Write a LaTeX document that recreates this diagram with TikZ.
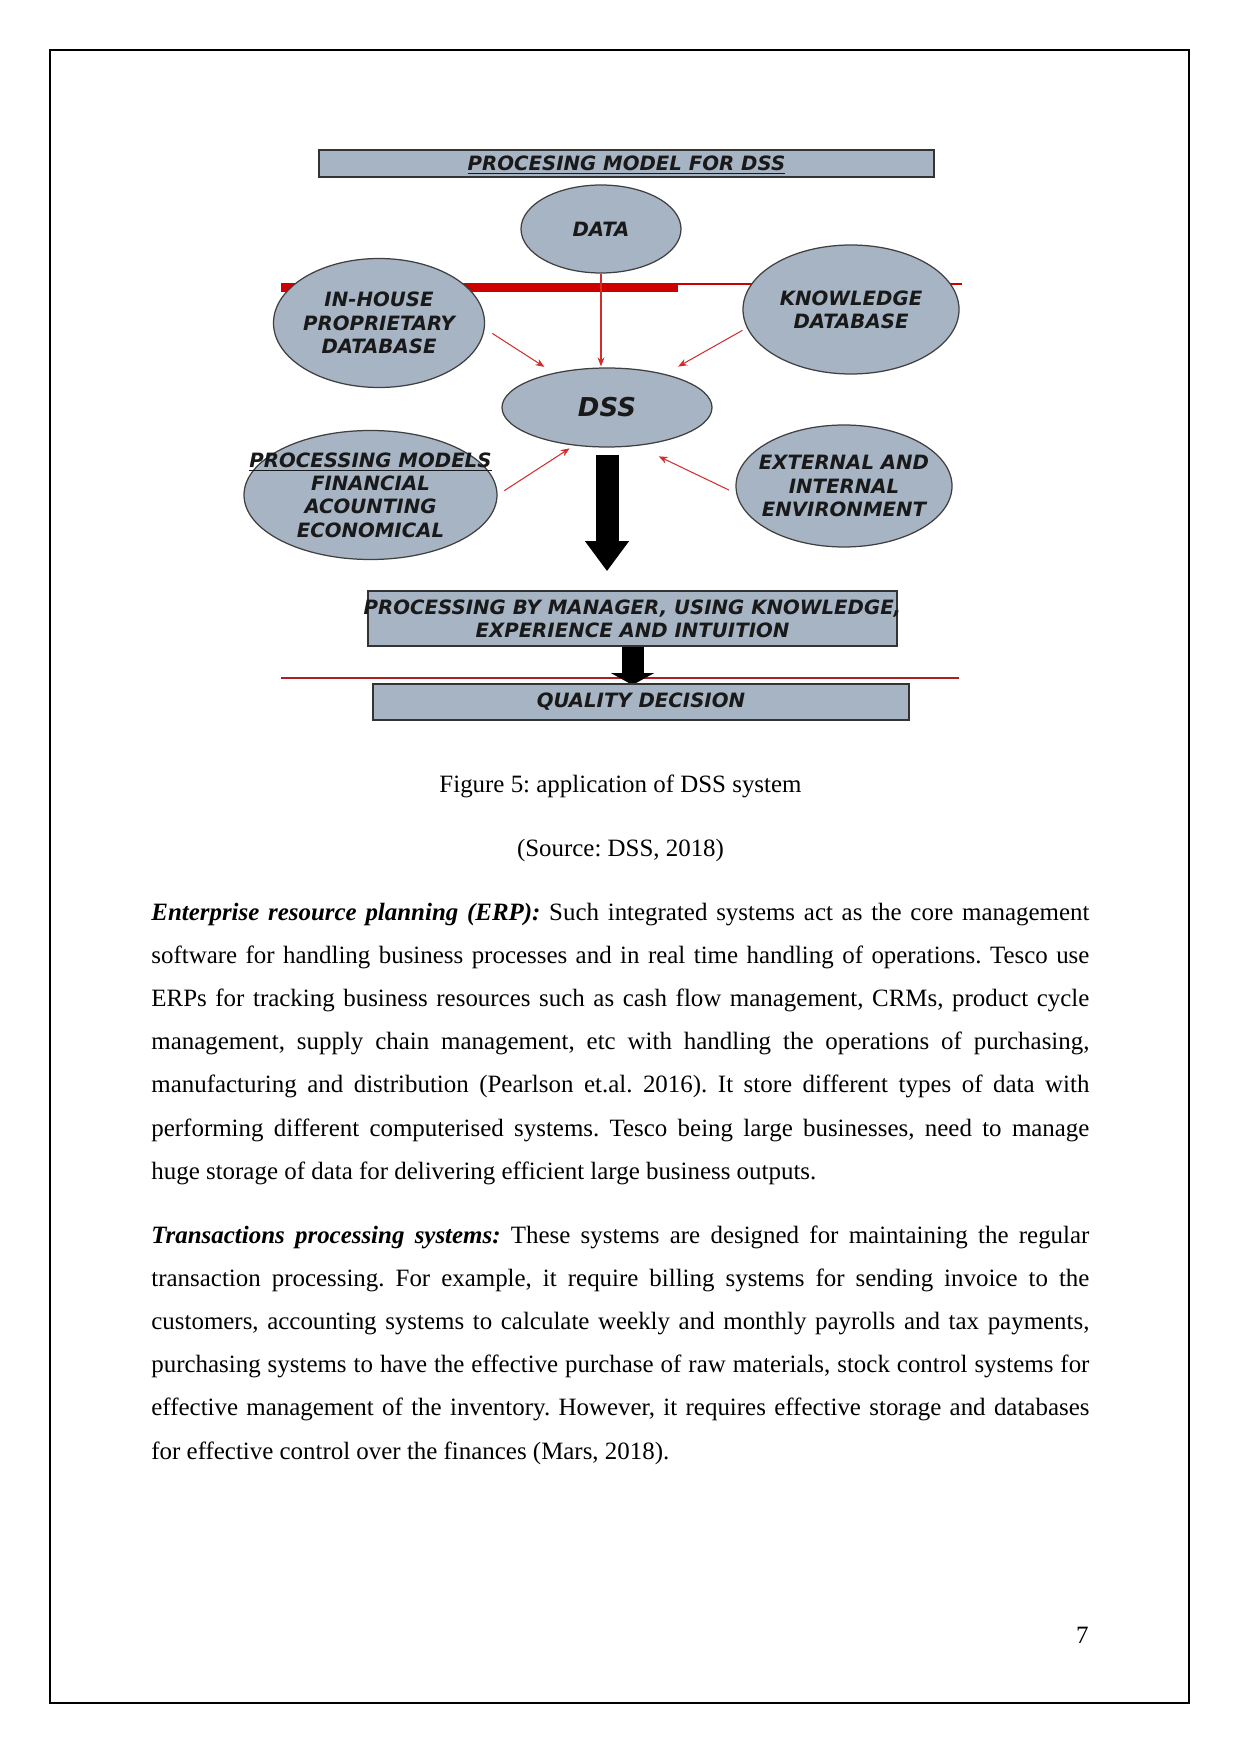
\documentclass[tikz,border=0pt]{standalone}
\usepackage{fontspec}
\setmainfont{Liberation Serif}
\newfontfamily\diafont{DejaVu Sans Bold Oblique}
\usetikzlibrary{shapes.geometric}
\usetikzlibrary{arrows.meta}
\newlength\pxl
\setlength\pxl{0.169218mm}
\definecolor{boxgray}{RGB}{167,180,196}
\definecolor{linkred}{RGB}{210,45,45}
\definecolor{barred}{RGB}{205,0,0}
\definecolor{rulered}{RGB}{175,30,30}
\frenchspacing

\tikzset{
  oval/.style={ellipse, draw=black!75, line width=0.6pt, fill=boxgray, inner sep=0pt},
  panel/.style={rectangle, draw=black!80, line width=0.8pt, fill=boxgray, inner sep=0pt},
  caps/.style={font=\diafont\fontsize{9.5}{11.2}\selectfont, text=black!90, align=center, inner sep=0pt},
  link/.style={draw=linkred, line width=0.5pt, -{Stealth[length=1.52mm,width=1.18mm]}},
  fatarrow/.style={line width=23\pxl, -{Triangle[length=5.08mm,width=7.11mm]}},
  body/.style={font=\fontsize{12}{20.8}\selectfont, inner sep=0pt, text width=938\pxl, align=justify, anchor=base west},
  plain/.style={font=\fontsize{12}{14}\selectfont, inner sep=0pt, anchor=base},
}

\begin{document}
\begin{tikzpicture}[x=0.169218mm, y=-0.169218mm]

      \useasboundingbox (0,0) rectangle (1241,1754);
      \draw [line width=1pt] (50,50) rectangle (1189,1703);

      % red bars behind the ovals
      \draw [barred, line width=9\pxl] (281,287.5) -- (678,287.5);
      \draw [barred, line width=0.5pt] (678,284) -- (962,284);
      \draw [rulered, line width=0.5pt] (281,678) -- (959,678);

      \node [panel, minimum width=615\pxl, minimum height=27\pxl] (title) at (626.5,163.5) {};
      \node [caps] (title-t) at ([yshift=-2\pxl]title.center) {\underline{PROCESING MODEL FOR DSS}};

      \node [oval, minimum width=160\pxl, minimum height=88\pxl] (data) at (601,229) {};
      \node [caps] (data-t) at (data) {DATA};

      \node [oval, minimum width=211\pxl, minimum height=129\pxl] (inh) at (379,323) {};
      \node [caps] (inh-t) at (inh) {IN-HOUSE\\PROPRIETARY\\DATABASE};

      \node [oval, minimum width=216\pxl, minimum height=129\pxl] (kno) at (851,309.5) {};
      \node [caps] (kno-t) at (kno) {KNOWLEDGE\\DATABASE};

      \node [oval, minimum width=210\pxl, minimum height=79\pxl] (dss) at (607,407.5) {};
      \node [caps, font=\diafont\fontsize{12.5}{14}\selectfont] (dss-t) at (dss) {DSS};

      \node [oval, minimum width=253\pxl, minimum height=129\pxl] (pm) at (370.5,495) {};
      \node [caps] (pm-t) at (pm) {\underline{PROCESSING MODELS}\\FINANCIAL\\ACOUNTING\\ECONOMICAL};

      \node [oval, minimum width=216\pxl, minimum height=122\pxl] (ext) at (844,486) {};
      \node [caps] (ext-t) at (ext) {EXTERNAL AND\\INTERNAL\\ENVIRONMENT};

      \node [panel, minimum width=529\pxl, minimum height=55\pxl] (proc) at (632.5,618.5) {};
      \node [caps] (proc-t) at (proc) {PROCESSING BY MANAGER, USING KNOWLEDGE,\\EXPERIENCE AND INTUITION};

      % thin red links into the DSS
      \draw [link, shorten >=1\pxl] (data.south) -- (data.south |- dss.north);
      \draw [link, shorten <=9\pxl, shorten >=11\pxl] (inh.-3) -- (dss.147);
      \draw [link, shorten <=5\pxl, shorten >=15\pxl] (kno.190) -- (dss.30);
      \draw [link, shorten <=8\pxl, shorten >=5\pxl] (pm.0) -- (dss.229);
      \draw [link, shorten <=8\pxl, shorten >=24\pxl] (ext.184) -- (dss.-52);

      % black arrows downwards
      \draw [fatarrow, shorten <=7\pxl, shorten >=19\pxl, xshift=2.5\pxl] (dss.south) -- (dss.south |- proc.north);
      \draw [fatarrow, line width=22\pxl, -{Triangle[length=2.03mm,width=7.28mm]}, xshift=-3.5\pxl, shorten >=-1\pxl] (proc.south) -- (proc.south |- 0,684);

      \node [panel, minimum width=536\pxl, minimum height=36\pxl] (qual) at (641,702) {};
      \node [caps] (qual-t) at (qual) {QUALITY DECISION};

      \node [plain] (cap) at (620.5,792) {Figure 5: application of DSS system};
      \node [plain] (src) at (620.5,856) {(Source: DSS, 2018)};

      \node [body] (erp) at (151,920) {\textbf{\textit{Enterprise resource planning (ERP):}} Such integrated systems act as the core management\linebreak
        software for handling business processes and in real time handling of operations. Tesco use\linebreak
        ERPs for tracking business resources such as cash flow management, CRMs, product cycle\linebreak
        management, supply chain management, etc with handling the operations of purchasing,\linebreak
        manufacturing and distribution (Pearlson et.al. 2016). It store different types of data with\linebreak
        performing different computerised systems. Tesco being large businesses, need to manage\linebreak
        huge storage of data for delivering efficient large business outputs.};

      \node [body] (tps) at (151,1243) {\textbf{\textit{Transactions processing systems:}} These systems are designed for maintaining the regular\linebreak
        transaction processing. For example, it require billing systems for sending invoice to the\linebreak
        customers, accounting systems to calculate weekly and monthly payrolls and tax payments,\linebreak
        purchasing systems to have the effective purchase of raw materials, stock control systems for\linebreak
        effective management of the inventory. However, it requires effective storage and databases\linebreak
        for effective control over the finances (Mars, 2018).};

      \node [plain, anchor=base east] (pageno) at (1089,1643) {7};

    \end{tikzpicture}
\end{document}
